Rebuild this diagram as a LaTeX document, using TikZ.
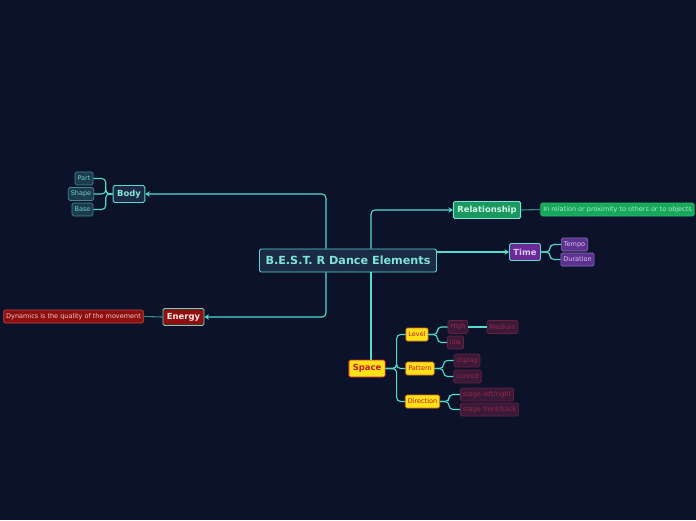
\documentclass[tikz,border=0pt]{standalone}
\usepackage{fontspec}
\setmainfont{DejaVu Sans}
\usepackage{xcolor}
\usetikzlibrary{arrows.meta, positioning, calc}

\definecolor{bgdark}{HTML}{0B1229}
\definecolor{linecy}{HTML}{56DCCB}
\definecolor{linedim}{HTML}{3A8A88}
\definecolor{rootfill}{HTML}{1B2A45}
\definecolor{subfill}{HTML}{1D3A4E}
\definecolor{subdraw}{HTML}{3C8C90}
\definecolor{subtext}{HTML}{6FD0CC}
\definecolor{relfill}{HTML}{1A9860}
\definecolor{reltext}{HTML}{D0F5E4}
\definecolor{relinfo}{HTML}{17A85C}
\definecolor{relinfodraw}{HTML}{25C070}
\definecolor{relinfotext}{HTML}{A8ECC8}
\definecolor{timefill}{HTML}{6A2B98}
\definecolor{timesub}{HTML}{5E3092}
\definecolor{timesubdraw}{HTML}{8070B0}
\definecolor{timetext}{HTML}{D8C8F0}
\definecolor{enfill}{HTML}{8E0F0F}
\definecolor{endraw}{HTML}{C04848}
\definecolor{entext}{HTML}{F0C8C8}
\definecolor{spfill}{HTML}{FFE11A}
\definecolor{spdraw}{HTML}{D02030}
\definecolor{sptext}{HTML}{C01830}
\definecolor{lvdraw}{HTML}{E07020}
\definecolor{leaffill}{HTML}{3A1A38}
\definecolor{leafdraw}{HTML}{6A2040}
\definecolor{leaftext}{HTML}{9A2848}

\begin{document}
\begin{tikzpicture}[x=1pt, y=-1pt,
    every node/.style={rectangle, draw, rounded corners=1.5pt, line width=0.9pt, inner sep=2pt},
    topic/.style={font=\bfseries\fontsize{8.4}{9}\selectfont, minimum height=17pt, inner xsep=4pt},
    leaf/.style={font=\fontsize{6.5}{7}\selectfont, minimum height=13pt, line width=0.7pt, inner xsep=2.5pt},
    conn/.style={draw=linecy, line width=1.1pt, rounded corners=4pt},
    dimconn/.style={draw=linedim, line width=1.1pt},
    arr/.style={-{Stealth[length=4.5pt, width=5.5pt]}}]
    \fill[bgdark] (0,0) rectangle (696,520);

    % central topic
    \node[fill=rootfill, draw=linecy, text=linecy!75!white, font=\bfseries\fontsize{11.2}{13}\selectfont,
        minimum height=23pt, inner xsep=6pt] (root) at (348,260.5) {B.E.S.T. R Dance Elements};

    % main branches
    \node[topic, fill=rootfill, draw=linecy, text=linecy!70!white] (body) at (129,194) {Body};
    \node[topic, fill=enfill, draw=linecy, text=white!92!red] (energy) at (183.5,317) {Energy};
    \node[topic, fill=relfill, draw=linecy!80!white, text=reltext] (rel) at (487,210) {Relationship};
    \node[topic, fill=timefill, draw=linecy, text=timetext] (time) at (525,252) {Time};
    \node[topic, fill=spfill, draw=spdraw, text=sptext] (space) at (367,368.5) {Space};

    % body
    \node[leaf, fill=subfill, draw=subdraw, text=subtext] (part) at (84,178.5) {Part};
    \node[leaf, fill=subfill, draw=subdraw, text=subtext] (shape) at (81,194) {Shape};
    \node[leaf, fill=subfill, draw=subdraw, text=subtext] (base) at (82.5,209.5) {Base};

    % energy
    \node[leaf, fill=enfill, draw=endraw, text=entext] (dyn) at (73.5,316.5) {Dynamics is the quality of the movement};

    % relationship
    \node[leaf, fill=relinfo, draw=relinfodraw, text=relinfotext] (relinfo) at (617.5,209.5) {In relation or proximity to others or to objects};

    % time
    \node[leaf, fill=timesub, draw=timesubdraw, text=timetext] (tempo) at (574.5,244.5) {Tempo};
    \node[leaf, fill=timesub, draw=timesubdraw, text=timetext] (dur) at (577.5,259.5) {Duration};

    % space
    \node[leaf, fill=spfill, draw=lvdraw, text=sptext] (level) at (417,334.5) {Level};
    \node[leaf, fill=spfill, draw=lvdraw, text=sptext] (pattern) at (420,368.5) {Pattern};
    \node[leaf, fill=spfill, draw=lvdraw, text=sptext] (dir) at (422.5,401.5) {Direction};
    \node[leaf, fill=leaffill, draw=leafdraw, text=leaftext] (high) at (458,327) {High};
    \node[leaf, fill=leaffill, draw=leafdraw, text=leaftext] (low) at (455.5,342.5) {low};
    \node[leaf, fill=leaffill, draw=leafdraw, text=leaftext] (medium) at (502.5,327) {Medium};
    \node[leaf, fill=leaffill, draw=leafdraw, text=leaftext] (zigzag) at (467,360.5) {zigzag};
    \node[leaf, fill=leaffill, draw=leafdraw, text=leaftext] (curved) at (467.5,376.5) {curved};
    \node[leaf, fill=leaffill, draw=leafdraw, text=leaftext] (left) at (487,394.5) {stage left/right};
    \node[leaf, fill=leaffill, draw=leafdraw, text=leaftext] (front) at (489.5,409.5) {stage front/back};

    % connectors from the centre
    \draw[conn, arr] ($(root.north)+(-22,0)$) |- (body.east);
    \draw[conn, arr] ($(root.south)+(-22,0)$) |- (energy.east);
    \draw[conn, arr] ($(root.north)+(23,0)$) |- (rel.west);
    \draw[conn, arr] (root.east |- time.west) -- (time.west);
    \draw[conn] ($(root.south)+(23,0)$) coordinate (rs) -- (rs |- space.north);

    % sub-branches
    \foreach \n in {part, shape, base}
        \draw[conn] (body.west) -- ++(-7,0) |- (\n.east);
    \draw[dimconn] (energy.west) -- (dyn.east);
    \draw[dimconn] (rel.east) -- (relinfo.west);
    \foreach \n in {tempo, dur}
        \draw[conn] (time.east) -- ++(9,0) |- (\n.west);
    \foreach \n in {level, pattern, dir}
        \draw[conn] (space.east) -- ++(11,0) |- (\n.west);
    \foreach \n in {high, low}
        \draw[conn] (level.east) -- ++(9,0) |- (\n.west);
    \draw[conn] (high.east) -- (medium.west);
    \foreach \n in {zigzag, curved}
        \draw[conn] (pattern.east) -- ++(9,0) |- (\n.west);
    \foreach \n in {left, front}
        \draw[conn] (dir.east) -- ++(9,0) |- (\n.west);
\end{tikzpicture}
\end{document}
